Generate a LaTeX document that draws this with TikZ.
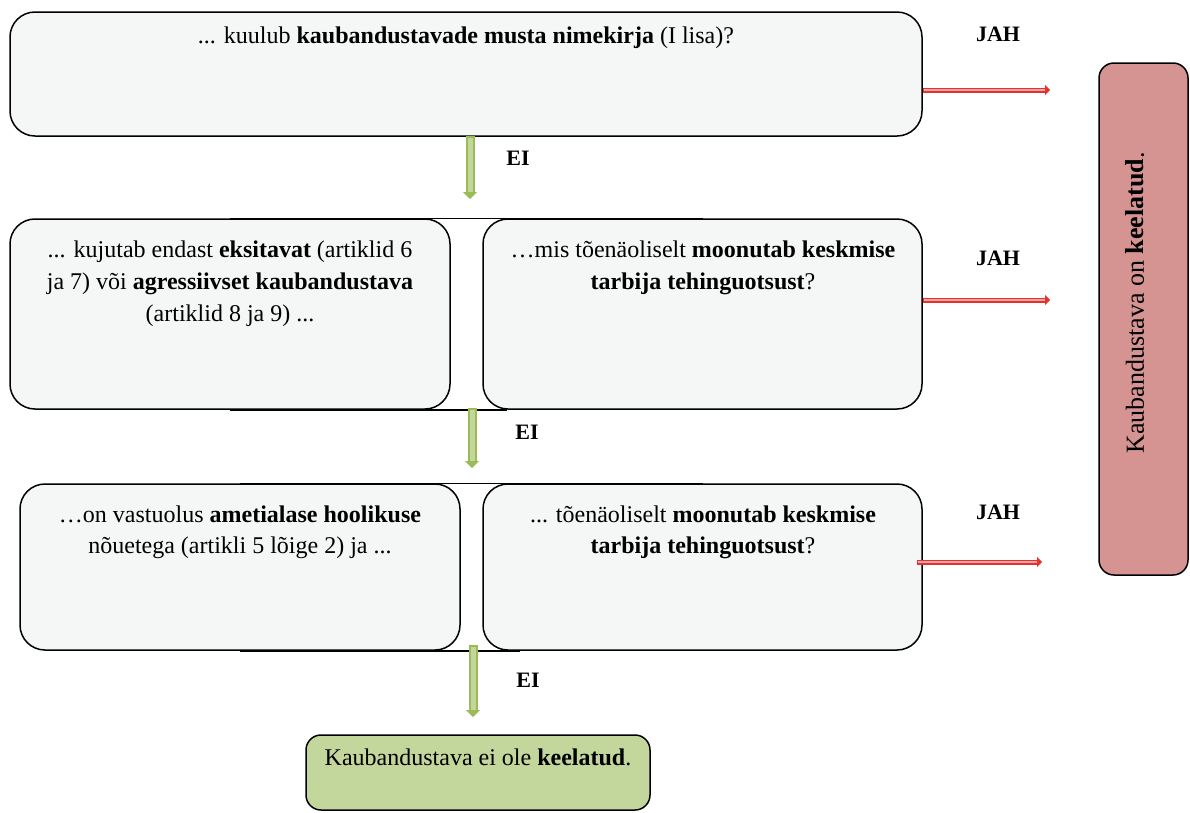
\documentclass[tikz,border=0pt]{standalone}
\usepackage{fontspec}
\setmainfont{LiberationSerif}[Extension=.ttf,UprightFont=*-Regular,BoldFont=*-Bold,ItalicFont=*-Italic,BoldItalicFont=*-BoldItalic]
\usetikzlibrary{arrows.meta,backgrounds}
\definecolor{boxgray}{HTML}{F5F6F6}
\definecolor{boxgreen}{HTML}{C3D69B}
\definecolor{boxred}{HTML}{D59392}
\definecolor{arrred}{HTML}{E8312F}
\definecolor{arrredin}{HTML}{F4A6A4}
\definecolor{arrgreen}{HTML}{9BBB59}
\definecolor{arrgreenin}{HTML}{C3D69B}
\begin{document}
\begin{tikzpicture}[x=1pt,y=-1pt,
  qbox/.style={draw=black,line width=1.5pt,rounded corners=25pt,fill=boxgray,inner sep=0pt},
  txt/.style={font=\fontsize{24}{32}\selectfont,align=center,inner sep=0pt,anchor=north},
  lab/.style={font=\fontsize{22}{26}\selectfont\bfseries,inner sep=0pt},
  redarr/.style={draw=arrred,line width=5pt,-{Triangle[length=5pt,width=10pt]},
    postaction={draw=arrredin,line width=1.6pt,-,shorten >=5pt,shorten <=1.5pt}},
  grnarr/.style={draw=arrgreen,line width=9pt,-{Triangle[length=7pt,width=14pt]},
    postaction={draw=arrgreenin,line width=5pt,-,shorten >=7pt,shorten <=2pt}}
]
\useasboundingbox (0,0) rectangle (1190,812);
% boxes
\node[qbox,minimum width=912pt,minimum height=124pt] (b1) at (466,74) {};
\node[qbox,minimum width=440pt,minimum height=190pt] (b2a) at (230,314) {};
\node[qbox,minimum width=439pt,minimum height=190pt] (b2b) at (702.5,314) {};
\node[qbox,minimum width=440pt,minimum height=166pt] (b3a) at (240,567) {};
\node[qbox,minimum width=439pt,minimum height=166pt] (b3b) at (702.5,567) {};
\node[qbox,fill=boxgreen,rounded corners=15pt,minimum width=344pt,minimum height=75pt] (fin) at (478,772.5) {};
\node[qbox,fill=boxred,rounded corners=15pt,minimum width=89pt,minimum height=512pt] (res) at (1143.5,319) {};
% joining bars
\begin{scope}[on background layer]
\draw[line width=1.5pt] (b2a.north) -- (b2b.north);
\draw[line width=1.5pt] (b2a.south) -- ([xshift=25pt]b2b.south west);
\draw[line width=1.5pt] (b3a.north) -- (b3b.north);
\draw[line width=1.5pt] (b3a.south) -- ([xshift=38pt]b3b.south west);
\end{scope}
% texts
\node[txt] (t1) at (466,27) {... kuulub \textbf{kaubandustavade musta nimekirja} (I lisa)?};
\node[txt] (t2a) at (230,241) {... kujutab endast \textbf{eksitavat} (artiklid 6\\ja 7) või \textbf{agressiivset kaubandustava}\\(artiklid 8 ja 9) ...};
\node[txt] (t2b) at (703,241) {…mis tõenäoliselt \textbf{moonutab keskmise}\\\textbf{tarbija tehinguotsust}?};
\node[txt,font=\fontsize{24}{31}\selectfont] (t3a) at (240,506) {…on vastuolus \textbf{ametialase hoolikuse}\\nõuetega (artikli 5 lõige 2) ja ...};
\node[txt,font=\fontsize{24}{31}\selectfont] (t3b) at (703,506) {... tõenäoliselt \textbf{moonutab keskmise}\\\textbf{tarbija tehinguotsust}?};
\node[txt] (tf) at (478,749) {Kaubandustava ei ole \textbf{keelatud}.};
\node[font=\fontsize{26}{30}\selectfont,inner sep=0pt,rotate=90] (tr) at (1135,303) {Kaubandustava on \textbf{keelatud}.};
% labels
\node[lab] (j1) at (998,34) {JAH};
\node[lab] (j2) at (998,258) {JAH};
\node[lab] (j3) at (998,512) {JAH};
\node[lab] (e1) at (518,158) {EI};
\node[lab] (e2) at (527,432) {EI};
\node[lab] (e3) at (528,680) {EI};
% arrow ends
\coordinate (r1) at (1050,90);
\coordinate (r2) at (1050,300);
\coordinate (r3) at (1042,562);
\coordinate (g1) at (470,199);
\coordinate (g2) at (472,468);
\coordinate (g3) at (473,717);
\draw[redarr] (b1.east |- r1) -- (r1);
\draw[redarr] (b2b.east |- r2) -- (r2);
\draw[redarr] ([xshift=-6pt]b3b.east |- r3) -- (r3);
\draw[grnarr] ([yshift=1pt]b1.south -| g1) -- (g1);
\draw[grnarr] ([yshift=2pt]b2a.south -| g2) -- (g2);
\draw[grnarr] ([yshift=6pt]b3a.south -| g3) -- (g3);
\end{tikzpicture}
\end{document}
